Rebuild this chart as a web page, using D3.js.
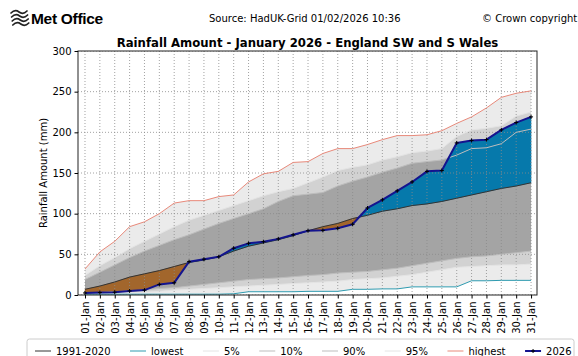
<!DOCTYPE html>
<html>
<head>
<meta charset="utf-8">
<script src="https://cdn.jsdelivr.net/npm/d3@7/dist/d3.min.js"></script>
<style>
  body { margin: 0; background: #fff; }
  svg { display: block; }
  text { font-family: "DejaVu Sans", sans-serif; fill: #000; }
</style>
</head>
<body>
<svg id="chart" width="578" height="356"></svg>
<script>
// Daily cumulative rainfall (mm), England SW and S Wales, January
const dayLabels = ["01-Jan","02-Jan","03-Jan","04-Jan","05-Jan","06-Jan","07-Jan","08-Jan","09-Jan","10-Jan",
  "11-Jan","12-Jan","13-Jan","14-Jan","15-Jan","16-Jan","17-Jan","18-Jan","19-Jan","20-Jan",
  "21-Jan","22-Jan","23-Jan","24-Jan","25-Jan","26-Jan","27-Jan","28-Jan","29-Jan","30-Jan","31-Jan"];
const rain2026 = [2.5, 3, 3.5, 5, 6, 13, 15, 41, 44, 47, 57.5, 63.5, 65.5, 69, 74, 79, 79.5, 82, 87,
  107, 117, 128, 139, 152, 153, 187, 190, 191, 203, 212, 219];
const mean1991_2020 = [7, 11, 16, 22, 26, 30, 35, 40, 43, 47, 54, 60, 64, 68, 73, 79, 84, 88, 94,
  98, 103, 106, 110, 112, 115, 119, 123, 127, 131, 134, 138];
const lowest = [1, 1, 1, 1, 1, 1, 1, 1, 1, 1, 1.5, 4, 4, 4, 4, 4.5, 4.5, 4.5, 7, 7, 7.5, 7.5,
  10, 10, 10, 10, 17.5, 17.5, 18, 18, 18];
const pct05 = [1.5, 2, 2.5, 3, 3.5, 4.5, 6, 7, 8, 9, 10, 11, 12, 13, 14, 15, 16, 17, 19, 20,
  21, 23, 25, 28, 31, 34, 35, 36, 37, 37, 38];
const pct10 = [2.5, 3, 4, 5, 6, 8, 9, 11, 13, 15, 17, 19, 20, 21, 22.5, 24, 25, 27, 28, 29,
  31, 33, 36, 39, 42, 45, 47, 48, 50, 52, 54];
const pct90 = [19, 28, 37, 46, 54, 61, 68, 74, 81, 88, 94, 100, 106, 115, 122, 124, 126, 134, 140,
  145, 151, 156, 162, 164, 166, 172, 180, 181, 186, 200, 204];
const pct95 = [24, 36, 46, 57, 66, 75, 84, 92, 98, 104, 110, 116, 122, 127, 131, 138, 145, 153, 157,
  160, 166, 170, 175, 177, 180, 195, 203, 205, 208, 220, 225];
const highest = [32, 53, 66, 84, 90, 100, 113, 116, 116, 121, 123, 139, 149, 152, 163, 164, 174,
  180, 180, 185, 191, 196, 196, 197, 202, 211, 219, 230, 243, 248, 251];
const yTicks = [0, 50, 100, 150, 200, 250, 300];

const legendItems = [
  { label: "1991-2020", color: "#333333", width: 1 },
  { label: "lowest", color: "#2f9bb0", width: 1 },
  { label: "5%", color: "#e4e4e4", width: 1 },
  { label: "10%", color: "#bdbdbd", width: 1 },
  { label: "90%", color: "#bdbdbd", width: 1 },
  { label: "95%", color: "#e4e4e4", width: 1 },
  { label: "highest", color: "#e8897a", width: 1 },
  { label: "2026", color: "#14148f", width: 2, marker: true }
];

const svg = d3.select("#chart");
const box = { left: 78, right: 537, top: 51, bottom: 295 };
const idx = d3.range(dayLabels.length);

const x = d3.scaleLinear().domain([0.53, 31.4]).range([box.left, box.right]);
const y = d3.scaleLinear().domain([0, 300]).range([box.bottom, box.top]);
const xd = i => x(i + 1);

// ---- header ----
const logo = svg.append("g").attr("transform", "translate(10,10)");
[0, 4, 8, 12].forEach((o, k) => {
  logo.append("path")
    .attr("d", `M${1 + k * 0.6},${3 + o} q4,-4 8,-1 t8,-1`)
    .attr("fill", "none").attr("stroke", "#222").attr("stroke-width", 1.7)
    .attr("stroke-linecap", "round");
});
svg.append("text").attr("x", 31).attr("y", 24)
  .style("font-family", "'Liberation Sans', Arial, sans-serif")
  .style("font-weight", "bold").style("font-size", "15.5px").style("letter-spacing", "-0.3px")
  .text("Met Office");
svg.append("text").attr("x", 209).attr("y", 22).style("font-size", "10px")
  .text("Source: HadUK-Grid 01/02/2026 10:36");
svg.append("text").attr("x", 482).attr("y", 22).style("font-size", "10px")
  .text("© Crown copyright");

// ---- title ----
svg.append("text").attr("x", (box.left + box.right) / 2).attr("y", 47)
  .attr("text-anchor", "middle").style("font-weight", "bold").style("font-size", "11.7px")
  .text("Rainfall Amount - January 2026 - England SW and S Wales");

// ---- plot area ----
svg.append("defs").append("clipPath").attr("id", "plotclip")
  .append("rect").attr("x", box.left).attr("y", box.top)
  .attr("width", box.right - box.left).attr("height", box.bottom - box.top);
const plot = svg.append("g").attr("clip-path", "url(#plotclip)");

function bandArea(lo, hi) {
  return d3.area().x(i => xd(i)).y0(i => y(lo[i])).y1(i => y(hi[i]))(idx);
}
plot.append("path").attr("d", bandArea(lowest, highest)).attr("fill", "#ebebeb");
plot.append("path").attr("d", bandArea(pct05, pct95)).attr("fill", "#d2d2d2");
plot.append("path").attr("d", bandArea(pct10, pct90)).attr("fill", "#a4a4a4");

// 2026 vs average: split into runs above (blue) and below (brown) the mean
const runs = [];
let cur = null;
for (let i = 0; i < idx.length; i++) {
  const d = rain2026[i] - mean1991_2020[i];
  const s = d >= 0 ? 1 : -1;
  const pt = { t: i + 1, a: rain2026[i], b: mean1991_2020[i] };
  if (cur && cur.sign !== s) {
    const dPrev = rain2026[i - 1] - mean1991_2020[i - 1];
    const f = dPrev / (dPrev - d);
    const cross = {
      t: i + f,
      a: rain2026[i - 1] + f * (rain2026[i] - rain2026[i - 1]),
      b: mean1991_2020[i - 1] + f * (mean1991_2020[i] - mean1991_2020[i - 1])
    };
    cur.pts.push(cross);
    runs.push(cur);
    cur = { sign: s, pts: [cross] };
  }
  if (!cur) cur = { sign: s, pts: [] };
  cur.pts.push(pt);
}
runs.push(cur);
const diffArea = d3.area().x(p => x(p.t)).y0(p => y(p.b)).y1(p => y(p.a));
runs.forEach(r => {
  plot.append("path").attr("d", diffArea(r.pts))
    .attr("fill", r.sign > 0 ? "#0679ab" : "#a2662c")
    .attr("stroke", r.sign > 0 ? "#0679ab" : "#a2662c").attr("stroke-width", 0.4);
});

// grid
const grid = plot.append("g").attr("stroke", "#8a8a8a").attr("stroke-width", 0.8)
  .attr("stroke-dasharray", "1,2");
idx.forEach(i => grid.append("line").attr("x1", xd(i)).attr("x2", xd(i))
  .attr("y1", box.top).attr("y2", box.bottom));
yTicks.forEach(v => grid.append("line").attr("x1", box.left).attr("x2", box.right)
  .attr("y1", y(v)).attr("y2", y(v)));

// lines
function seriesLine(vals, color, w) {
  plot.append("path").attr("d", d3.line().x(i => xd(i)).y(i => y(vals[i]))(idx))
    .attr("fill", "none").attr("stroke", color).attr("stroke-width", w)
    .attr("stroke-linejoin", "round");
}
seriesLine(pct05, "#e4e4e4", 1);
seriesLine(pct95, "#e4e4e4", 1);
seriesLine(pct10, "#bdbdbd", 1);
seriesLine(pct90, "#bdbdbd", 1);
seriesLine(lowest, "#2f9bb0", 1);
seriesLine(highest, "#e8897a", 1);
seriesLine(mean1991_2020, "#333333", 1);
seriesLine(rain2026, "#14148f", 2);

// 2026 markers
const mk = plot.append("g").attr("stroke", "#000").attr("stroke-width", 1);
idx.forEach(i => {
  const cx = xd(i), cy = y(rain2026[i]);
  mk.append("line").attr("x1", cx - 2).attr("x2", cx + 2).attr("y1", cy).attr("y2", cy);
  mk.append("line").attr("x1", cx).attr("x2", cx).attr("y1", cy - 2).attr("y2", cy + 2);
});

// frame
svg.append("rect").attr("x", box.left).attr("y", box.top)
  .attr("width", box.right - box.left).attr("height", box.bottom - box.top)
  .attr("fill", "none").attr("stroke", "#222").attr("stroke-width", 1);

// axes
const yAxis = d3.axisLeft(y).tickValues(yTicks).tickSize(3.5).tickPadding(3);
const gy = svg.append("g").attr("transform", `translate(${box.left},0)`).call(yAxis);
gy.select(".domain").remove();
gy.selectAll("text").style("font-size", "10px").style("font-family", "'DejaVu Sans', sans-serif");

const xAxis = d3.axisBottom(x).tickValues(idx.map(i => i + 1))
  .tickFormat(d => dayLabels[d - 1]).tickSize(3.5).tickPadding(3);
const gx = svg.append("g").attr("transform", `translate(0,${box.bottom})`).call(xAxis);
gx.select(".domain").remove();
gx.selectAll("text").style("font-size", "10px").style("font-family", "'DejaVu Sans', sans-serif")
  .attr("transform", "rotate(-90)").attr("text-anchor", "end")
  .attr("x", -6.5).attr("y", 0).attr("dy", "0.35em");

svg.append("text").attr("transform", `translate(47,${(box.top + box.bottom) / 2}) rotate(-90)`)
  .attr("text-anchor", "middle").style("font-size", "10px")
  .text("Rainfall Amount (mm)");

// legend
const lg = svg.append("g");
lg.append("rect").attr("x", 27).attr("y", 339).attr("width", 547).attr("height", 24)
  .attr("rx", 2.5).attr("fill", "#fff").attr("stroke", "#cccccc").attr("stroke-width", 1);
let lx = 35;
legendItems.forEach(it => {
  const ly = 351;
  lg.append("line").attr("x1", lx).attr("x2", lx + 16).attr("y1", ly).attr("y2", ly)
    .attr("stroke", it.color).attr("stroke-width", it.width);
  if (it.marker) {
    lg.append("line").attr("x1", lx + 6).attr("x2", lx + 10).attr("y1", ly).attr("y2", ly)
      .attr("stroke", "#000").attr("stroke-width", 1);
    lg.append("line").attr("x1", lx + 8).attr("x2", lx + 8).attr("y1", ly - 2).attr("y2", ly + 2)
      .attr("stroke", "#000").attr("stroke-width", 1);
  }
  const t = lg.append("text").attr("x", lx + 21).attr("y", ly + 3.6).style("font-size", "10px")
    .text(it.label);
  lx += 21 + t.node().getComputedTextLength() + 19.5;
});
</script>
</body>
</html>
